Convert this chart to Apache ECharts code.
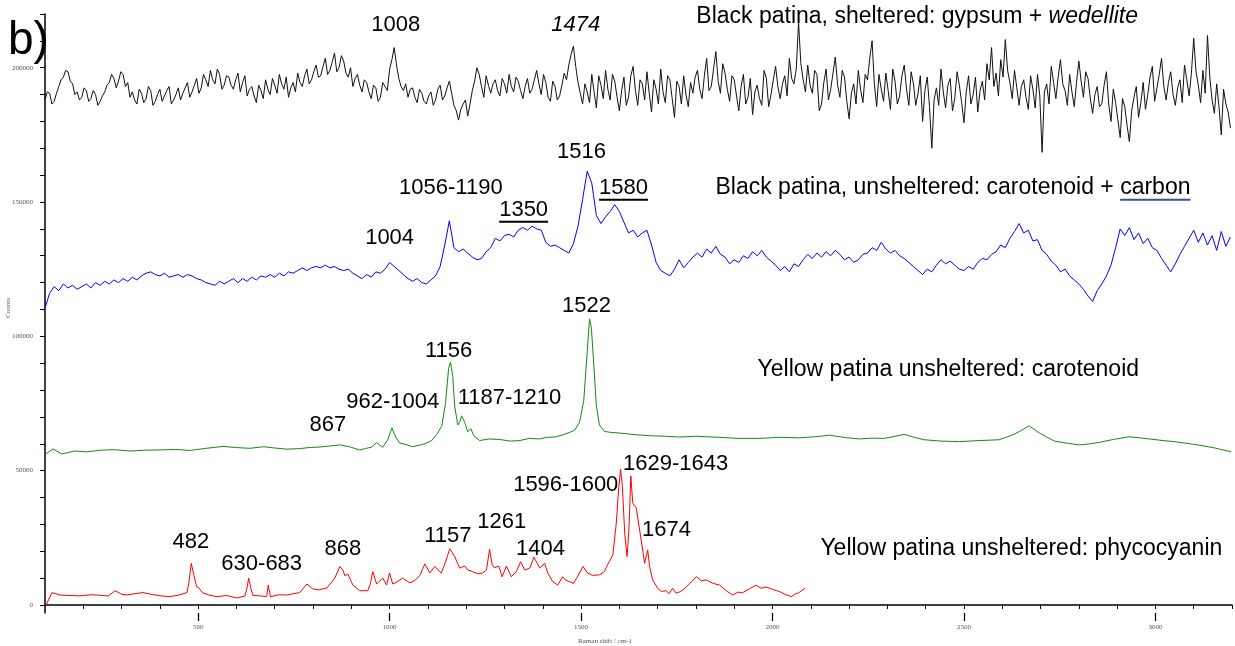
<!DOCTYPE html>
<html>
<head>
<meta charset="utf-8">
<title>Raman spectra b)</title>
<script src="https://cdn.jsdelivr.net/npm/echarts@6/dist/echarts.min.js"></script>
<style>
  html, body { margin: 0; padding: 0; background: #fff; }
  #main { width: 1235px; height: 646px; }
</style>
</head>
<body>
<div id="main"></div>
<script>
// ---- data (Raman shift in cm-1, intensity in counts) ----

// Black patina, sheltered: sampled every 6 cm-1 from 100
const blackStart = 100;
const blackStep = 6;
const blackCounts = [
  188000,191000,190500,186500,187500,190500,193000,195500,196500,199000,198500,195000,194000,190000,191000,188000,189000,192500,191500,187500,
  188500,191500,190000,186000,187500,189500,191000,193500,194500,197500,196000,192500,195000,198500,197500,193000,194500,189000,191000,188000,
  186500,192000,190500,187000,188500,193000,191500,186000,187500,190000,192000,187500,189500,191500,193000,186500,188000,190000,192500,188000,
  190500,192500,194500,189000,191000,193500,196000,190500,192500,197500,195500,193000,199000,195500,194000,199500,197500,192000,193500,197000,
  196500,193500,192000,195500,198000,191000,194500,197000,189500,192000,193000,189500,187000,193500,191500,188500,195500,192000,190000,196000,
  193500,190500,197500,194000,192000,196500,189000,192500,194500,191000,198000,194500,193000,197000,199500,194000,195500,198500,201000,196500,
  197000,200500,203500,197500,199000,202000,205500,198500,200000,204500,202500,198000,196500,200000,193000,196000,197500,193500,191000,195500,
  194500,191000,188500,193500,192500,187500,189000,194500,193000,191500,199500,203000,207500,201000,196000,193000,191500,194000,189000,192000,
  192500,189000,187000,192000,190500,187500,186500,189500,191000,186000,188000,192000,193500,188000,189500,192500,195000,190500,186000,184000,
  180500,184500,186500,188000,182000,186500,191500,195000,200000,197500,193000,189000,197000,193500,190500,194000,195500,191500,189500,196000,
  194000,190500,197500,193000,191000,196500,195000,191500,188500,193000,196000,190500,192000,195500,199000,194000,190000,197500,194500,189000,
  187500,195000,193000,188000,189500,193500,198000,195500,201000,205000,208000,200500,194500,190500,186500,194000,191000,187000,197500,191000,
  185000,197000,193500,188500,199000,192000,188000,197500,195000,189000,184000,191500,196500,186000,189000,197000,200500,191500,186000,195500,
  194000,188000,198500,190500,183500,195500,192000,186500,199500,191000,187000,197000,195500,188500,181500,195000,193000,186500,197000,190000,
  185500,194500,190500,196500,199000,192000,188500,197000,203500,191500,193000,199500,206000,195000,190500,201500,198000,192000,187500,197000,
  195500,189500,184000,193000,197500,186500,189000,196000,182500,191000,193500,188500,186000,199000,196000,185500,190000,195500,200500,193000,
  188500,194000,197000,189500,203500,196000,194000,199500,217000,201500,195500,191000,201000,193500,190500,199000,197500,184000,186500,194500,
  199500,188000,192000,198000,204000,193500,189000,199000,196500,187500,181000,190500,194000,186500,199000,192000,187000,197500,195500,203500,
  210000,194000,185500,197500,192000,187500,198000,191500,184500,199500,195000,186500,189500,197000,201000,192000,186000,198500,194000,186000,
  190500,197000,180000,191500,196500,185500,170000,188000,192500,186000,199500,191000,185000,193500,196000,184000,188500,198500,193500,187000,
  179500,191000,197000,186500,190000,196500,183500,191500,195000,188000,201500,195500,207500,193000,198000,189500,203000,196500,210500,199000,
  194500,188500,199000,192500,186000,193000,195500,189000,184500,197000,192000,185000,197500,189500,168500,191000,194000,186500,200500,194500,
  188500,196500,203000,194000,191500,186000,197500,191000,185500,194500,202500,195000,189000,198500,196000,188500,183000,190000,193000,185500,
  186500,193500,198500,186500,180000,192000,187000,180500,174000,188500,185500,178500,172500,184000,189000,193000,181500,187000,194500,184500,
  190000,196500,200500,187500,192500,197500,203500,193000,188000,194500,198500,190000,186000,192500,195500,187000,201000,195500,189500,198000,
  211000,198500,193500,187000,199000,190500,212000,196500,188000,183000,194000,185500,175000,192000,186500,183500,177500
];

// Black patina, unsheltered: sampled every 12 cm-1 from 100
const blueStart = 100;
const blueStep = 12;
const blueCounts = [
  110500,116000,118500,117000,119500,118000,119000,117500,118500,119500,
  118000,120000,119000,120500,119500,121000,120000,121500,120500,122000,
  121000,122500,123500,124000,123000,122500,123500,122000,122500,123000,
  122000,123000,122500,121500,121000,120000,119500,119000,120500,119500,
  120500,121500,120000,121500,120500,122000,121000,122500,122000,123000,
  122000,123500,122500,124000,123500,124500,125500,124500,125500,126000,
  125500,126500,125500,126000,125000,124500,125000,123500,122500,121500,
  123000,122000,124000,123500,125000,127500,126000,124500,123000,121500,
  120500,121500,120000,119500,121000,122500,126000,134000,143000,133000,
  131500,132500,131000,129500,128500,129000,131500,133000,136500,135500,
  137500,138000,137000,139500,140500,139500,141000,140000,139500,135000,
  133500,134000,133000,132000,131000,134500,141000,151000,161500,157000,
  145000,142000,144500,146500,149000,146500,142500,138500,139500,137000,
  138500,139500,134000,127500,124500,123500,122500,125000,128500,125500,
  127500,129500,131000,129500,132500,131000,133500,130500,129500,127000,
  128500,127500,130000,129000,131500,130000,132000,129500,128000,126500,
  124500,126000,124000,127000,126000,128500,130500,129000,131000,129500,
  131500,130000,132000,130500,128500,129500,127500,128500,130500,131000,
  133000,132000,135000,132500,131000,132000,130000,129000,127500,126000,
  124500,123000,125000,124000,126500,128500,127000,128000,126500,125000,
  124500,126000,125000,127500,129000,128500,130500,131500,134000,133000,
  136500,139000,142000,138500,139500,135500,136000,132000,130500,128000,
  126500,124000,125000,122500,121000,119500,117500,115000,113000,117000,
  119500,122500,126500,133000,140000,137500,140500,136000,138500,134500,
  136500,133000,132000,129000,126500,124000,127000,130500,133500,136500,
  139500,135000,138500,134000,137500,132000,139000,133500,137000
];

// Yellow patina unsheltered: carotenoid  [shift, counts]
const greenPoints = [
  [100,56000],[121,58100],[144,56200],[178,57300],[210,57000],[244,57600],[280,57800],
  [322,57300],[360,57600],[400,57700],[440,57900],[478,57500],[520,58300],[565,59000],
  [600,58600],[635,58300],[670,58900],[695,58500],[730,58000],[765,58200],[790,58600],
  [818,58800],[845,59200],[870,59600],[895,58900],[922,57700],[940,58300],[953,58800],
  [966,60400],[982,58700],[995,61500],[1006,65900],[1016,62500],[1026,60300],[1045,59600],
  [1060,58900],[1075,59400],[1092,60000],[1110,61200],[1123,63500],[1136,66500],[1146,75000],
  [1154,88000],[1159,90400],[1165,85000],[1170,74000],[1178,67000],[1183,68000],[1188,70400],
  [1196,68000],[1204,64500],[1212,65600],[1220,63000],[1235,61200],[1260,61800],[1287,61600],
  [1315,61000],[1340,61200],[1365,62000],[1392,61800],[1410,62400],[1431,62500],[1457,63500],
  [1483,65000],[1496,68000],[1507,76000],[1515,92000],[1522,106500],[1527,103000],[1533,90000],
  [1540,74000],[1548,67000],[1561,64600],[1580,64200],[1601,64000],[1640,63400],[1679,63000],
  [1720,62800],[1757,62500],[1800,62800],[1861,62400],[1910,62000],[1966,62000],[2020,62400],
  [2070,62200],[2110,62600],[2149,63200],[2190,62300],[2227,61800],[2260,62100],[2292,62000],
  [2320,62800],[2344,63500],[2370,62400],[2396,61500],[2440,61000],[2488,60800],[2540,61200],
  [2592,61500],[2631,63500],[2650,65000],[2670,66700],[2697,64000],[2736,61000],[2770,60200],
  [2801,59600],[2830,60000],[2853,60500],[2890,61600],[2931,62600],[2960,62200],[2984,61800],
  [3020,61200],[3049,60800],[3080,60200],[3114,59500],[3153,58500],[3198,57000]
];

// Yellow patina unsheltered: phycocyanin  [shift, counts]
const redPoints = [
  [103,0],[118,4600],[139,3700],[165,3500],[191,3400],[220,3800],[244,3600],[265,3300],
  [283,5300],[300,4000],[314,3700],[335,4200],[356,4600],[380,3900],[400,3400],[426,3100],
  [450,3700],[471,4600],[476,8500],[482,15500],[489,11000],[496,6800],[502,6300],[512,4500],
  [530,3600],[549,3100],[575,3500],[601,2600],[622,3300],[627,6000],[632,10000],[638,6000],
  [643,3500],[660,3400],[679,3100],[683,7400],[689,3000],[710,3800],[732,3700],[750,4200],
  [765,4600],[784,7800],[799,6000],[815,5600],[836,6300],[857,10000],[870,14300],[878,13000],
  [883,10900],[891,11500],[904,7400],[922,5300],[943,5300],[950,8000],[956,12400],[966,7800],
  [982,10000],[992,7400],[1000,11900],[1008,7800],[1020,8600],[1034,10000],[1053,8200],
  [1065,9000],[1079,11000],[1092,15300],[1105,11900],[1118,14300],[1135,11900],[1146,16000],
  [1157,20900],[1170,18000],[1183,13700],[1196,14500],[1205,13000],[1217,12400],[1230,11600],
  [1243,11900],[1253,13000],[1261,20700],[1268,15000],[1274,13800],[1285,14500],[1294,10500],
  [1305,14500],[1318,10500],[1331,12400],[1342,16100],[1353,13000],[1366,13700],[1377,17800],
  [1392,13700],[1405,15500],[1413,11900],[1426,8700],[1439,7400],[1452,10500],[1460,9200],
  [1470,8700],[1480,8000],[1488,9900],[1505,14300],[1517,11900],[1530,11000],[1548,11200],
  [1561,12400],[1569,14900],[1583,18600],[1592,30400],[1598,42800],[1603,50500],[1608,44100],
  [1614,26700],[1620,18000],[1625,27900],[1630,48000],[1635,37900],[1644,36200],[1653,27900],
  [1666,15500],[1674,20500],[1679,14300],[1687,9300],[1700,6200],[1710,5000],[1722,5300],
  [1730,4200],[1739,6200],[1748,4400],[1757,4800],[1766,5600],[1775,6700],[1788,8600],
  [1801,10500],[1814,9000],[1827,9300],[1845,8000],[1862,7400],[1880,5200],[1896,3700],
  [1910,4800],[1921,4500],[1940,6000],[1957,7400],[1970,6200],[1983,6700],[2000,5800],
  [2018,5000],[2035,3800],[2049,3100],[2060,4200],[2068,4500],[2085,6200]
];

// axis ticks and labels
const xMinorTicks = [200,300,400,500,600,700,800,900,1000,1100,1200,1300,1400,1500,1600,1700,
  1800,1900,2000,2100,2200,2300,2400,2500,2600,2700,2800,2900,3000,3100,3200];
const xMajorTicks = [500,1000,1500,2000,2500,3000];
const yTicks = [0,10000,20000,30000,40000,50000,60000,70000,80000,90000,100000,110000,
  120000,130000,140000,150000,160000,170000,180000,190000,200000,210000,220000];
const yLabels = [0,50000,100000,150000,200000];

// peak annotations: text, anchor shift, anchor counts, style
const peakLabels = [
  ['1008', 1016, 216000, ''],
  ['1474', 1486, 216000, 'italic'],
  ['1516', 1501, 168700, ''],
  ['1056-1190', 1160, 155300, ''],
  ['1580', 1611, 155300, 'underline'],
  ['1350', 1350, 147100, 'underline'],
  ['1004', 1000, 136700, ''],
  ['1522', 1514, 111300, ''],
  ['1156', 1154, 94600, ''],
  ['962-1004', 1008, 75600, ''],
  ['1187-1210', 1313, 77100, ''],
  ['867', 839, 67000, ''],
  ['1629-1643', 1747, 52500, ''],
  ['1596-1600', 1460, 44700, ''],
  ['1261', 1293, 30900, ''],
  ['1157', 1152, 25700, ''],
  ['1674', 1723, 27900, ''],
  ['1404', 1394, 20900, ''],
  ['482', 481, 23500, ''],
  ['868', 878, 20900, ''],
  ['630-683', 666, 15300, '']
];

// spectrum captions: plain part, emphasised part, left anchor shift, anchor counts
const captions = [
  { plain: 'Black patina, sheltered: gypsum + ', extra: 'wedellite', shift: 1801, counts: 219000, color: '#000000', extraStyle: 'italic' },
  { plain: 'Black patina, unsheltered: carotenoid + ', extra: 'carbon', shift: 1851, counts: 155300, color: '#2f559a', extraStyle: 'underline' },
  { plain: 'Yellow patina unsheltered: carotenoid', extra: '', shift: 1961, counts: 87500, color: '#3e8c2e', extraStyle: '' },
  { plain: 'Yellow patina unsheltered: phycocyanin', extra: '', shift: 2125, counts: 20900, color: '#ff0000', extraStyle: '' }
];

// ---- chart ----
const onGrid = (start, step, vals) => vals.map((c, i) => [start + i * step, c]);
const sans = 'Liberation Sans, Arial, sans-serif';
const serif = 'Liberation Serif, Times New Roman, serif';

function spectrum(name, data, color, width) {
  return {
    name: name,
    type: 'line',
    xAxisIndex: 0,
    yAxisIndex: 0,
    data: data,
    showSymbol: false,
    symbol: 'none',
    sampling: false,
    lineStyle: { color: color, width: width },
    silent: true,
    animation: false
  };
}

const chart = echarts.init(document.getElementById('main'));
const option = {
  animation: false,
  backgroundColor: '#ffffff',
  grid: { left: 45, right: 3, top: 14, bottom: 33 },
  xAxis: [
    {
      type: 'value',
      min: 100,
      max: 3200,
      position: 'bottom',
      axisLine: { lineStyle: { color: '#000', width: 1.5 } },
      axisTick: { customValues: xMinorTicks, length: 4, lineStyle: { color: '#000', width: 1 } },
      axisLabel: {
        customValues: xMajorTicks,
        formatter: (v) => String(v),
        margin: 11,
        fontSize: 7,
        fontFamily: serif,
        color: '#555'
      },
      splitLine: { show: false }
    },
    {
      type: 'value',
      min: 100,
      max: 3200,
      position: 'bottom',
      axisLine: { show: false },
      axisTick: { customValues: xMajorTicks, length: 8, lineStyle: { color: '#000', width: 1.3 } },
      axisLabel: { show: false },
      splitLine: { show: false }
    }
  ],
  yAxis: {
    type: 'value',
    min: -3000,
    max: 220000,
    axisLine: { show: true, lineStyle: { color: '#000', width: 1.5 } },
    axisTick: { show: true, customValues: yTicks, length: 5, lineStyle: { color: '#000', width: 1 } },
    axisLabel: {
      customValues: yLabels,
      formatter: (v) => String(v),
      margin: 12,
      fontSize: 7,
      fontFamily: serif,
      color: '#555'
    },
    splitLine: { show: false }
  },
  series: [
    spectrum('black', onGrid(blackStart, blackStep, blackCounts), '#111111', 1),
    spectrum('blue', onGrid(blueStart, blueStep, blueCounts), '#0000ff', 1),
    spectrum('green', greenPoints, '#138a13', 1),
    spectrum('red', redPoints, '#ff0000', 1)
  ]
};
chart.setOption(option);

// ---- annotations, anchored through the axes ----
const measureCtx = document.createElement('canvas').getContext('2d');
function textWidth(t, font) { measureCtx.font = font; return measureCtx.measureText(t).width; }
const toPx = (s, c) => chart.convertToPixel({ seriesIndex: 0 }, [s, c]);

const graphics = [];
const numFont = 22;
peakLabels.forEach(([txt, s, c, st]) => {
  const p = toPx(s, c);
  graphics.push({
    type: 'text', x: p[0], y: p[1], silent: true, z: 10,
    style: {
      text: txt, fill: '#000',
      font: (st === 'italic' ? 'italic ' : '') + numFont + 'px ' + sans,
      align: 'center', verticalAlign: 'middle',
      textAlign: 'center', textVerticalAlign: 'middle'
    }
  });
  if (st === 'underline') {
    const w = textWidth(txt, numFont + 'px ' + sans);
    graphics.push({
      type: 'line', silent: true, z: 10,
      shape: { x1: p[0] - w / 2, y1: p[1] + 12, x2: p[0] + w / 2, y2: p[1] + 12 },
      style: { stroke: '#000', lineWidth: 2 }
    });
  }
});

const capFont = 23;
captions.forEach((cap) => {
  const p = toPx(cap.shift, cap.counts);
  const italic = cap.extraStyle === 'italic';
  graphics.push({
    type: 'text', x: p[0], y: p[1], silent: true, z: 10,
    style: {
      text: '{a|' + cap.plain + '}' + (cap.extra ? '{b|' + cap.extra + '}' : ''),
      align: 'left', verticalAlign: 'middle',
      textAlign: 'left', textVerticalAlign: 'middle',
      rich: {
        a: { fontSize: capFont, fontFamily: sans, color: cap.color },
        b: { fontSize: capFont, fontFamily: sans, color: cap.color, fontStyle: italic ? 'italic' : 'normal' }
      }
    }
  });
  if (cap.extraStyle === 'underline') {
    const f = capFont + 'px ' + sans;
    const x0 = p[0] + textWidth(cap.plain, f);
    const w = textWidth(cap.extra, f);
    graphics.push({
      type: 'line', silent: true, z: 10,
      shape: { x1: x0, y1: p[1] + 12, x2: x0 + w, y2: p[1] + 12 },
      style: { stroke: cap.color, lineWidth: 2 }
    });
  }
});

// panel letter and axis titles
graphics.push({
  type: 'text', left: 8, top: 18, silent: true, z: 10,
  style: { text: 'b)', font: '46px ' + sans, fill: '#000' }
});
graphics.push({
  type: 'text', x: 8, y: 308, rotation: Math.PI / 2, silent: true, z: 10,
  style: { text: 'Counts', font: '7px ' + serif, fill: '#555', align: 'center', verticalAlign: 'middle', textAlign: 'center', textVerticalAlign: 'middle' }
});
graphics.push({
  type: 'text', x: 605, y: 641, silent: true, z: 10,
  style: { text: 'Raman shift / cm-1', font: '7px ' + serif, fill: '#555', align: 'center', verticalAlign: 'middle', textAlign: 'center', textVerticalAlign: 'middle' }
});

chart.setOption({ graphic: graphics });
window.addEventListener('resize', () => chart.resize());
</script>
</body>
</html>
